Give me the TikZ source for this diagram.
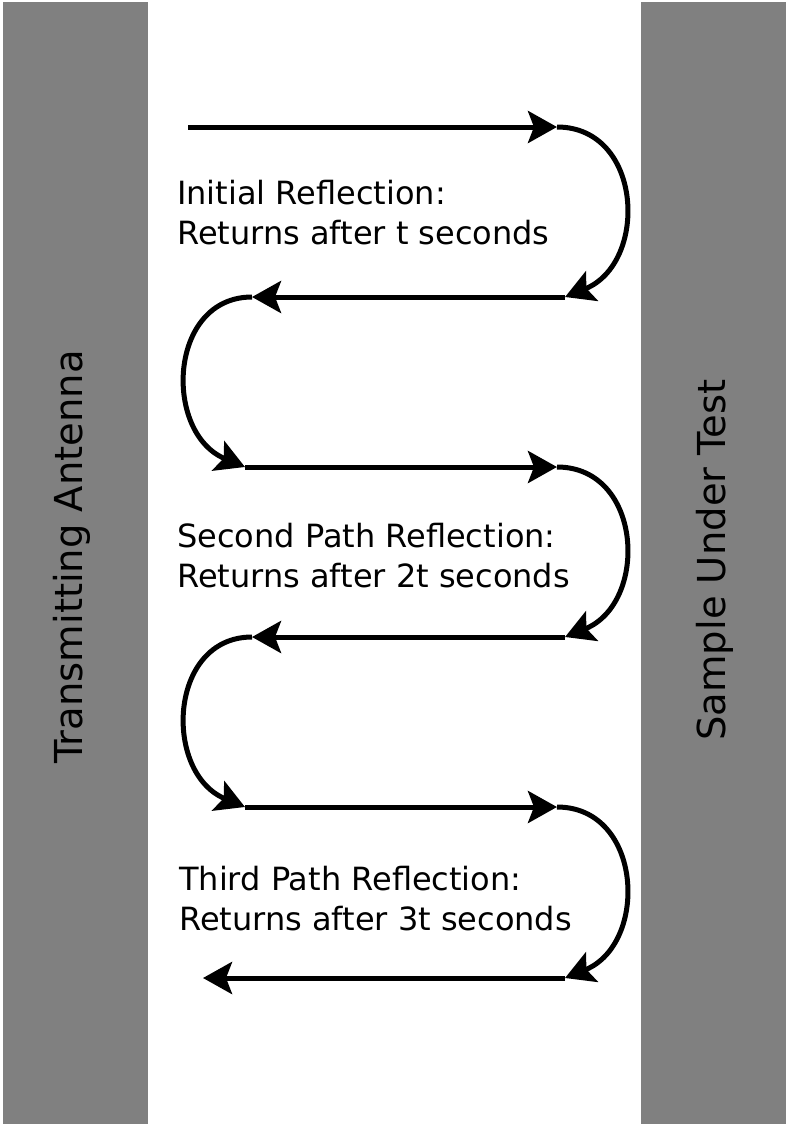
\documentclass[tikz,border=0pt]{standalone}
\usepackage{fontspec}
\setmainfont{DejaVu Sans}
\usetikzlibrary{arrows.meta}
\definecolor{wallgray}{HTML}{808080}
\begin{document}
\begin{tikzpicture}[x=1pt,y=-1pt,
  wall/.style={fill=wallgray,draw=none},
  ray/.style={line width=5pt,-{Stealth[length=29pt,width=32pt,inset=6pt]}},
  caption/.style={anchor=base west,align=left,inner sep=0pt,
    font=\fontsize{32}{40}\selectfont},
  walllabel/.style={rotate=90,anchor=base,inner sep=0pt,
    font=\fontsize{38.5}{46}\selectfont}]
  % page
  \fill[white] (0,0) rectangle (786,1124);
  \useasboundingbox (0,0) rectangle (786,1124);
  % antenna and sample walls
  \fill[wall] (3,2) rectangle (148,1124);
  \fill[wall] (641,2) rectangle (786,1124);
  \node[walllabel] (tx) at (82,557) {Transmitting Antenna};
  \node[walllabel] (dut) at (725,560) {Sample Under Test};
  % turning points of the bouncing ray
  \coordinate (s0) at (188,127);
  \coordinate (r1) at (557,127);
  \coordinate (q1) at (565,297);
  \coordinate (l1) at (252,297);
  \coordinate (p1) at (245,467);
  \coordinate (r2) at (557,467);
  \coordinate (q2) at (565,637);
  \coordinate (l2) at (252,637);
  \coordinate (p2) at (245,807);
  \coordinate (r3) at (557,807);
  \coordinate (q3) at (565,978);
  \coordinate (e0) at (203,978);
  % straight runs
  \draw[ray] (s0) -- (r1);
  \draw[ray] (q1) -- (l1);
  \draw[ray] (p1) -- (r2);
  \draw[ray] (q2) -- (l2);
  \draw[ray] (p2) -- (r3);
  \draw[ray] (q3) -- (e0);
  % reflections at the sample
  \draw[ray] (r1) .. controls +(86,0) and +(84,-34) .. (q1);
  \draw[ray] (r2) .. controls +(86,0) and +(84,-34) .. (q2);
  \draw[ray] (r3) .. controls +(86,0) and +(84,-34) .. (q3);
  % reflections at the antenna
  \draw[ray] (l1) .. controls +(-84,0) and +(-82,-34) .. (p1);
  \draw[ray] (l2) .. controls +(-84,0) and +(-82,-34) .. (p2);
  % captions
  \node[caption] (c1) at (177,244) {Initial Reflection:\\Returns after t seconds};
  \node[caption] (c2) at (177,587) {Second Path Reflection:\\Returns after 2t seconds};
  \node[caption] (c3) at (179,930) {Third Path Reflection:\\Returns after 3t seconds};
\end{tikzpicture}
\end{document}
